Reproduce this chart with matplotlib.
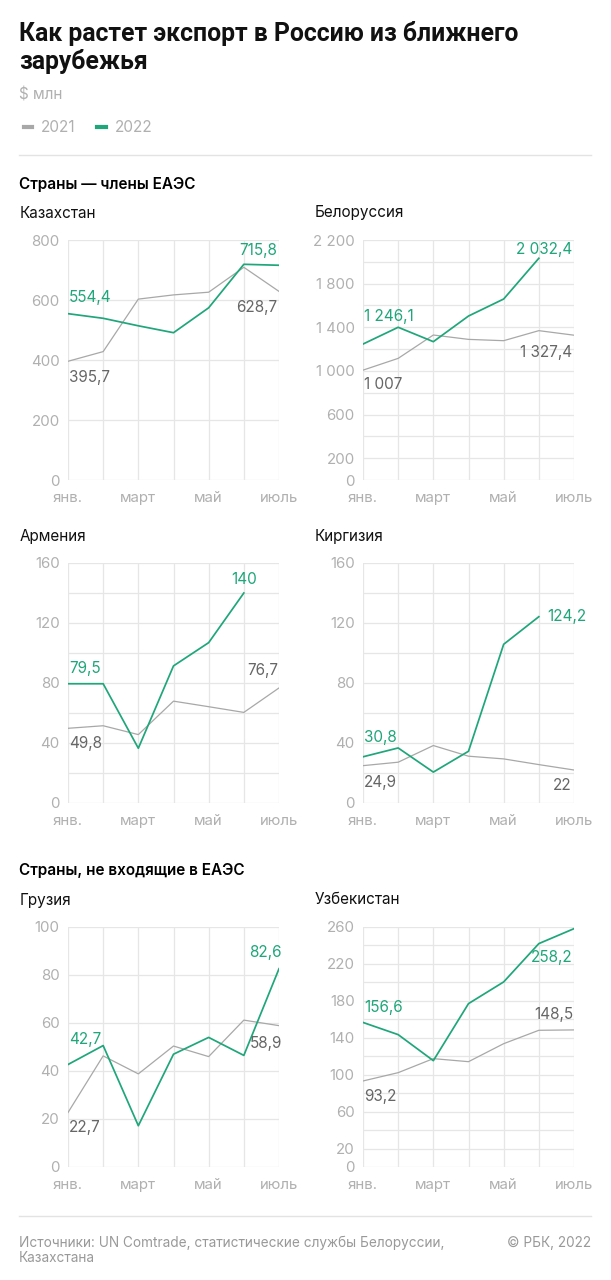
import matplotlib.pyplot as plt
from matplotlib.lines import Line2D

plt.rcParams['font.family'] = ['Inter', 'DejaVu Sans']

W, H = 611, 1280
GREEN = '#1fa67a'
GRAY_LINE = '#a8a8a8'
GRAY_TXT = '#666666'
TICK = '#b0b0b0'
GRID = '#e6e6e6'

months = ['янв.', 'фев.', 'март', 'апр.', 'май', 'июнь', 'июль']
month_ticks = [0, 2, 4, 6]
month_labels = ['янв.', 'март', 'май', 'июль']

# значения, $ млн (2022 для части стран — только до июня)
kz_2021 = [395.7, 428, 603, 617, 626, 709, 628.7]
kz_2022 = [554.4, 539, 514, 491, 574, 719, 715.8]
by_2021 = [1007, 1115, 1329, 1289, 1277, 1369, 1327.4]
by_2022 = [1246.1, 1400, 1268, 1503, 1659, 2032.4]
am_2021 = [49.8, 51.5, 45.6, 67.9, 64.2, 60.4, 76.7]
am_2022 = [79.5, 79.5, 36.5, 91.4, 106.9, 140]
kg_2021 = [24.9, 27.2, 38.3, 31.2, 29.4, 25.6, 22]
kg_2022 = [30.8, 36.7, 20.6, 34.5, 105.8, 124.2]
ge_2021 = [22.7, 46.3, 38.8, 50.4, 46.0, 61.2, 58.9]
ge_2022 = [42.7, 50.6, 17.2, 47.0, 54.0, 46.5, 82.6]
uz_2021 = [93.2, 102.2, 117.4, 114.1, 133.6, 148.1, 148.5]
uz_2022 = [156.6, 143.4, 115.2, 177.0, 200.5, 242, 258.2]

kz_yticks = [0, 200, 400, 600, 800]
kz_ylabels = ['0', '200', '400', '600', '800']
by_yticks = [0, 200, 600, 1000, 1400, 1800, 2200]
by_ylabels = ['0', '200', '600', '1 000', '1 400', '1 800', '2 200']
by_ygrid = [400, 800, 1200, 1600, 2000]
am_yticks = [0, 40, 80, 120, 160]
am_ylabels = ['0', '40', '80', '120', '160']
am_ygrid = [20, 60, 100, 140]
ge_yticks = [0, 20, 40, 60, 80, 100]
ge_ylabels = ['0', '20', '40', '60', '80', '100']
uz_yticks = [0, 20, 60, 100, 140, 180, 220, 260]
uz_ylabels = ['0', '20', '60', '100', '140', '180', '220', '260']
uz_ygrid = [40, 80, 120, 160, 200, 240]

# (серия, индекс, текст, dx px, dy px, ha)
kz_notes = [('22', 0, '554,4', 1, 16, 'left'), ('21', 0, '395,7', 1, -16, 'left'),
            ('22', 6, '715,8', -2, 15, 'right'), ('21', 6, '628,7', -2, -16, 'right')]
by_notes = [('22', 0, '1 246,1', 1, 28, 'left'), ('21', 0, '1 007', 1, -14, 'left'),
            ('22', 5, '2 032,4', 33, 9, 'right'), ('21', 6, '1 327,4', -2, -17, 'right')]
am_notes = [('22', 0, '79,5', 1, 15, 'left'), ('21', 0, '49,8', 1, -15, 'left'),
            ('22', 5, '140', 0, 13, 'center'), ('21', 6, '76,7', -1, 17, 'right')]
kg_notes = [('22', 0, '30,8', 1, 19, 'left'), ('21', 0, '24,9', 1, -17, 'left'),
            ('22', 5, '124,2', 8, 0, 'left'), ('21', 6, '22', -2, -16, 'right')]
ge_notes = [('22', 0, '42,7', 1, 25, 'left'), ('21', 0, '22,7', 1, -15, 'left'),
            ('22', 6, '82,6', 3, 16, 'right'), ('21', 6, '58,9', 3, -18, 'right')]
uz_notes = [('22', 0, '156,6', 1, 15, 'left'), ('21', 0, '93,2', 1, -16, 'left'),
            ('22', 6, '258,2', -1, -29, 'right'), ('21', 6, '148,5', -1, 15, 'right')]

panels = [
    ('Казахстан', kz_2021, kz_2022, 800, kz_yticks, kz_ylabels, [], kz_notes, 68, 240),
    ('Белоруссия', by_2021, by_2022, 2200, by_yticks, by_ylabels, by_ygrid, by_notes, 363, 240),
    ('Армения', am_2021, am_2022, 160, am_yticks, am_ylabels, am_ygrid, am_notes, 68, 563),
    ('Киргизия', kg_2021, kg_2022, 160, am_yticks, am_ylabels, am_ygrid, kg_notes, 363, 563),
    ('Грузия', ge_2021, ge_2022, 100, ge_yticks, ge_ylabels, [], ge_notes, 68, 927),
    ('Узбекистан', uz_2021, uz_2022, 260, uz_yticks, uz_ylabels, uz_ygrid, uz_notes, 363, 927),
]

fig = plt.figure(figsize=(W / 100, H / 100), dpi=100)
fig.patch.set_facecolor('white')


def fx(x):
    return x / W


def fy(y):
    return 1 - y / H


fig.text(fx(19), fy(21), 'Как растет экспорт в Россию из ближнего\nзарубежья',
         fontsize=17.8, fontweight='bold', va='top', ha='left', color='#111111',
         linespacing=1.15, family=['Roboto', 'DejaVu Sans'])
fig.text(fx(19), fy(95), '$ млн', fontsize=11, color=TICK, va='center')

fig.add_artist(Line2D([fx(19), fx(591)], [fy(155), fy(155)], color='#e3e3e3', lw=1))
fig.add_artist(Line2D([fx(19), fx(591)], [fy(1216), fy(1216)], color='#e3e3e3', lw=1))

fig.text(fx(19), fy(185), 'Страны — члены ЕАЭС', fontsize=11, fontweight='semibold', va='center')
fig.text(fx(19), fy(871), 'Страны, не входящие в ЕАЭС', fontsize=11, fontweight='semibold', va='center')

ax_w, ax_h = 211, 240
handles = None
for name, s21, s22, ymax, yt, yl, yg, notes, left, top in panels:
    ax = fig.add_axes([fx(left), fy(top + ax_h), ax_w / W, ax_h / H])
    fig.text(fx(left - 48), fy(top - 27), name, fontsize=11, va='center', color='#111111')
    l21, = ax.plot(range(len(s21)), s21, color=GRAY_LINE, lw=0.9, zorder=3)
    l22, = ax.plot(range(len(s22)), s22, color=GREEN, lw=1.25, zorder=4)
    handles = [l21, l22]
    ax.set_xlim(0, 6)
    ax.set_ylim(0, ymax)
    ax.set_xticks(month_ticks)
    ax.set_xticklabels(month_labels)
    ax.set_xticks(range(7), minor=True)
    ax.set_yticks(yt)
    ax.set_yticklabels(yl)
    ax.set_yticks(yg, minor=True)
    ax.grid(True, which='both', color=GRID, lw=0.9)
    ax.set_axisbelow(True)
    for sp in ax.spines.values():
        sp.set_visible(False)
    ax.tick_params(which='both', length=0, labelsize=10.8, colors=TICK)
    ax.tick_params(axis='y', pad=6)
    ax.tick_params(axis='x', pad=8)
    for ser, i, txt, dx, dy, ha in notes:
        vals = s22 if ser == '22' else s21
        ax.annotate(txt, (i, vals[i]), xytext=(dx, dy), textcoords='offset pixels',
                    ha=ha, va='center', fontsize=11,
                    color=GREEN if ser == '22' else GRAY_TXT, zorder=5,
                    annotation_clip=False)

leg = fig.legend(handles, ['2021', '2022'], loc='center left',
                 bbox_to_anchor=(fx(10), fy(128)), ncol=2, frameon=False,
                 handlelength=0.55, handletextpad=0.6, columnspacing=1.4,
                 fontsize=11, labelcolor=TICK)
for h in leg.legend_handles:
    h.set_linewidth(3)

fig.text(fx(19), fy(1236), 'Источники: UN Comtrade, статистические службы Белоруссии,\nКазахстана',
         fontsize=9.8, color='#999999', va='top', linespacing=1.1)
fig.text(fx(591), fy(1236), '© РБК, 2022', fontsize=9.8, color='#999999', va='top', ha='right')

fig.savefig('out.png', dpi=100, facecolor='white')
